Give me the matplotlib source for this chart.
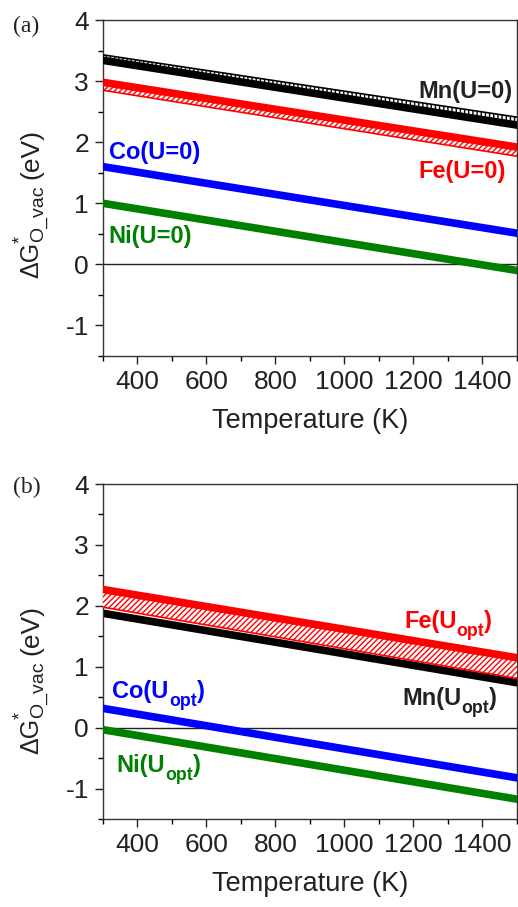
import matplotlib
matplotlib.use("Agg")
import matplotlib.pyplot as plt
from matplotlib.ticker import MultipleLocator
from matplotlib.transforms import offset_copy

plt.rcParams['font.family'] = ['Liberation Sans', 'DejaVu Sans']
plt.rcParams['axes.unicode_minus'] = False
plt.rcParams['hatch.linewidth'] = 1.0

# Temperature endpoints (K)
T = [300, 1500]

# Panel (a): U = 0
mn0_upper = [3.43, 2.41]
mn0_line = [3.34, 2.28]
fe0_line = [2.98, 1.92]
fe0_lower = [2.85, 1.77]
co0_line = [1.60, 0.51]
ni0_line = [1.00, -0.10]

# Panel (b): U = U_opt
feo_line = [2.27, 1.15]
feo_lower = [1.98, 0.81]
mno_line = [1.88, 0.74]
coo_line = [0.32, -0.82]
nio_line = [-0.03, -1.17]

xticks = [400, 600, 800, 1000, 1200, 1400]
yticks = [-1, 0, 1, 2, 3, 4]

W, H = 518, 907
DPI = 100
fig = plt.figure(figsize=(W / DPI, H / DPI), dpi=DPI)

def frac_box(l, t, r, b):
    return [l / W, 1 - b / H, (r - l) / W, (b - t) / H]

ax1 = fig.add_axes(frac_box(102.8, 20, 517, 356))
ax2 = fig.add_axes(frac_box(102.8, 484, 517, 819.3))

LW = 5.5
RED = '#ff0000'
BLUE = '#0000ff'
GREEN = '#008000'
BLACK = '#000000'
TXT = '#222222'

def style(ax):
    ax.set_xlim(300, 1500)
    ax.set_ylim(-1.5, 4)
    ax.set_xticks(xticks)
    ax.set_yticks(yticks)
    ax.xaxis.set_minor_locator(MultipleLocator(100))
    ax.yaxis.set_minor_locator(MultipleLocator(0.5))
    ax.tick_params(which='major', direction='out', length=6, width=1,
                   labelsize=19, colors=TXT, pad=4,
                   top=False, right=False)
    ax.tick_params(which='minor', direction='out', length=3.5, width=1,
                   top=False, right=False)
    for s in ax.spines.values():
        s.set_linewidth(1.0)
        s.set_color('#333333')
    ax.axhline(0, color='#222222', lw=1.0, zorder=1)
    ax.set_xlabel('Temperature (K)', fontsize=19.5, color=TXT, labelpad=10)

# Panel (a)
ax1.fill_between(T, mn0_upper, mn0_line, facecolor='white', edgecolor=BLACK,
                 hatch='||||', lw=0, zorder=2)
ax1.plot(T, mn0_upper, color=BLACK, lw=1.2, zorder=3)
ax1.plot(T, mn0_line, color=BLACK, lw=LW, zorder=3)
ax1.fill_between(T, fe0_line, fe0_lower, facecolor='white', edgecolor=RED,
                 hatch='//////', lw=0, zorder=2)
ax1.plot(T, fe0_lower, color=RED, lw=1.2, zorder=3)
ax1.plot(T, fe0_line, color=RED, lw=LW, zorder=3)
ax1.plot(T, co0_line, color=BLUE, lw=LW, zorder=3)
ax1.plot(T, ni0_line, color=GREEN, lw=LW, zorder=3)

LFS = 17
lab = dict(fontsize=LFS, fontweight='bold')
ax1.text(1487, 2.83, 'Mn(U=0)', color='#222222', ha='right', va='center', **lab)
ax1.text(1467, 1.52, 'Fe(U=0)', color=RED, ha='right', va='center', **lab)
ax1.text(318, 1.83, 'Co(U=0)', color=BLUE, ha='left', va='center', **lab)
ax1.text(315, 0.46, 'Ni(U=0)', color=GREEN, ha='left', va='center', **lab)

# Panel (b)
ax2.plot(T, mno_line, color=BLACK, lw=LW, zorder=2)
ax2.fill_between(T, feo_line, feo_lower, facecolor='white', edgecolor=RED,
                 hatch='//////', lw=0, zorder=3)
ax2.plot(T, feo_lower, color=RED, lw=1.2, zorder=4)
ax2.plot(T, feo_line, color=RED, lw=LW, zorder=4)
ax2.plot(T, coo_line, color=BLUE, lw=LW, zorder=3)
ax2.plot(T, nio_line, color=GREEN, lw=LW, zorder=3)

renderer = fig.canvas.get_renderer()

def sub_label(ax, x, y, main, sub, color, ha):
    """Draw main + lowered subscript + ')' as a bold label anchored at (x, y) baseline."""
    parts = [(main, LFS, 0.0), (sub, LFS * 0.75, -5.5), (')', LFS, 0.0)]
    texts = []
    widths = []
    for s, fs, dy in parts:
        t = ax.text(x, y, s, color=color, fontsize=fs, fontweight='bold',
                    ha='left', va='baseline')
        w = t.get_window_extent(renderer).width * 72.0 / DPI
        texts.append((t, dy))
        widths.append(w)
    total = sum(widths)
    start = -total if ha == 'right' else 0.0
    off = start
    for (t, dy), w in zip(texts, widths):
        t.set_transform(offset_copy(ax.transData, fig=fig, x=off, y=dy, units='points'))
        off += w

sub_label(ax2, 1428, 1.63, 'Fe(U', 'opt', RED, 'right')
sub_label(ax2, 1443, 0.37, 'Mn(U', 'opt', '#222222', 'right')
sub_label(ax2, 328, 0.49, 'Co(U', 'opt', BLUE, 'left')
sub_label(ax2, 340, -0.73, 'Ni(U', 'opt', GREEN, 'left')

def ylabel_pieces(y_start):
    """Rotated y label 'ΔG*_O_vac (eV)' built from pieces; y_start is the pixel row of its lower end."""
    y = y_start
    def put(s, fs, xb, yy, ha='left'):
        t = fig.text(xb / W, 1 - yy / H, s, rotation=90, rotation_mode='anchor',
                     ha=ha, va='baseline', fontsize=fs, color=TXT)
        return t.get_window_extent(renderer).height
    y -= put('\u0394G', 18, 38.5, y)
    put('*', 13, 25.5, y - 2, ha='center')
    y -= put('O_vac', 14, 42.5, y)
    y -= 6
    put('(eV)', 19, 38.5, y)

ylabel_pieces(278)
ylabel_pieces(754)

for ax in (ax1, ax2):
    style(ax)

fig.text(13 / W, 1 - 26 / H, '(a)', fontsize=17, family='Liberation Serif',
         ha='left', va='center', color='#222222')
fig.text(13 / W, 1 - 487 / H, '(b)', fontsize=17, family='Liberation Serif',
         ha='left', va='center', color='#222222')

fig.savefig('out.png', dpi=DPI)
